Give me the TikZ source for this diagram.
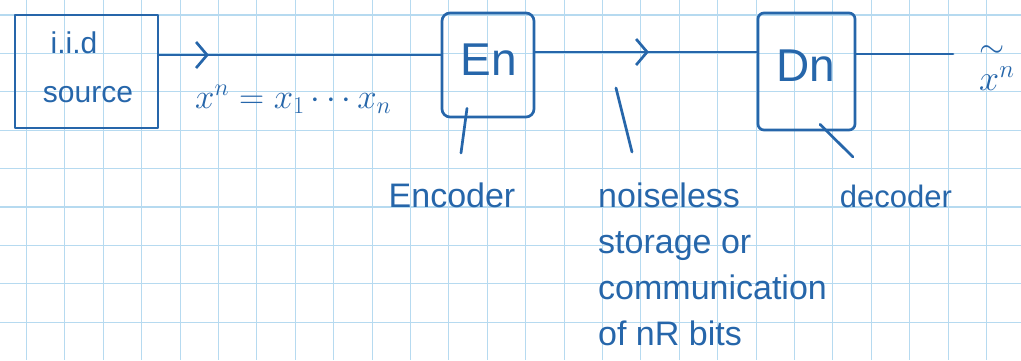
\documentclass[tikz,border=0pt]{standalone}
\usepackage{graphicx}
\usepackage{fontspec}
\setmainfont{Liberation Sans}
\usetikzlibrary{arrows.meta,decorations.markings,calc}
\definecolor{ink}{RGB}{38,102,170}
\definecolor{gridblue}{RGB}{182,218,240}
\begin{document}
\begin{tikzpicture}[x=1pt,y=-1pt,
  pen/.style={draw=ink, line width=2.7pt, line cap=round, line join=round},
  box/.style={pen, inner sep=0pt},
  lbl/.style={text=ink, inner sep=0pt, font=\fontsize{34}{46}\selectfont},
  gridline/.style={draw=gridblue, line width=1.1pt},
  midarrow/.style={postaction={decorate}, decoration={markings, mark=at position #1 with {\arrow[ink, line width=2.7pt]{Straight Barb[length=11pt,width=26pt]}}}}
]
\fill[white] (0,0) rectangle (1021,360);
\useasboundingbox (0,0) rectangle (1021,360);
% grid paper
\foreach \i in {0,...,25} \draw[gridline] ({26.5+38.4*\i},0) -- ({26.5+38.4*\i},360);
\foreach \j in {0,...,8} \draw[gridline] (0,{15+38.4*\j}) -- (1021,{15+38.4*\j});

% boxes
\node[box, minimum width=143pt, minimum height=113pt] (src) at (86.5,71.5) {};
\node[lbl, font=\fontsize{30}{36}\selectfont] (iid) at (74,43) {i.i.d};
\node[lbl, font=\fontsize{30}{36}\selectfont] (srct) at (88,95) {source};

\node[box, rounded corners=8pt, minimum width=92pt, minimum height=104pt] (enc) at (488,65) {};
\node[lbl, font=\fontsize{46}{50}\selectfont] (entext) at (489,60) {En};

\node[box, rounded corners=6pt, minimum width=97pt, minimum height=117pt] (dec) at (806.5,71.5) {};
\node[lbl, font=\fontsize{46}{50}\selectfont] (dntext) at (806,66) {Dn};

% connectors
\draw[pen, midarrow=0.176] ([yshift=16.5pt]src.east) -- ([yshift=10pt]enc.west);
\draw[pen, midarrow=0.513] ([yshift=13pt]enc.east) -- ([yshift=19.5pt]dec.west);
\coordinate (out) at (953,54);
\draw[pen] ([yshift=17.5pt]dec.east) -- (out);

% labels
\node[lbl, anchor=base west] (xlbl) at (195,108) {\scalebox{1.4}{\fontsize{24}{28}\selectfont $x^n = x_1 \cdots x_n$}};
\node[lbl, anchor=north west, align=left, font=\fontsize{24}{20}\selectfont] (xt) at (979,45) {\scalebox{1.3}{$\sim$}\\[9pt]\scalebox{1.45}{$x^{n}$}};

\node[lbl] (enclbl) at (452,195) {Encoder};
\coordinate (encend) at (461,153);
\draw[pen] ($(enc.south)+(-21,-10)$) -- (encend);

\coordinate (ch1) at (616,88);
\coordinate (ch2) at (632,152);
\draw[pen] (ch1) -- (ch2);
\node[lbl, anchor=north west, align=left] (chlbl) at (598,183) {noiseless\\storage or\\communication\\of nR bits};

\node[lbl, font=\fontsize{31}{40}\selectfont] (declbl) at (896,196) {decoder};
\coordinate (decend) at (853,157);
\draw[pen] ($(dec.south)+(13.5,-7)$) -- (decend);
\end{tikzpicture}
\end{document}
